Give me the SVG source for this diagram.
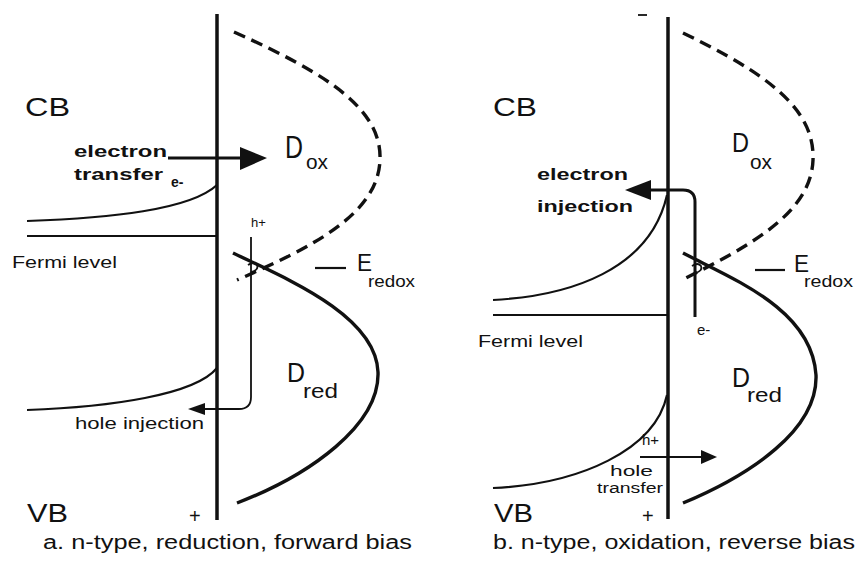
<svg xmlns="http://www.w3.org/2000/svg" width="857" height="561" viewBox="0 0 857 561">
<defs>
<style>
.t{font-family:"Liberation Sans",Arial,sans-serif;fill:#111}
.b{font-weight:bold}
.iface{stroke:#111;stroke-width:3.5;fill:none}
.band{stroke:#111;stroke-width:2.2;fill:none}
.ox{stroke:#111;stroke-width:3.4;fill:none;stroke-dasharray:12 7}
.red{stroke:#111;stroke-width:3.4;fill:none}
.thin{stroke:#111;stroke-width:1.8;fill:none}
.thick{stroke:#111;stroke-width:3;fill:none}
.ah{fill:#111}
</style>
</defs>
<rect width="857" height="561" fill="#fff"/>

<g id="panel-a">
  <g id="a-interface"><line class="iface" x1="217" y1="14" x2="217" y2="520"/></g>
  <g id="a-cb"><path class="band" d="M27,221 C110,218 190,210 217,185"/>
    <text class="t" x="25" y="116" font-size="25" textLength="45" lengthAdjust="spacingAndGlyphs">CB</text></g>
  <g id="a-fermi"><line class="band" x1="27" y1="236" x2="217" y2="236" stroke-width="2.6"/>
    <text class="t" x="12" y="268" font-size="16" textLength="105" lengthAdjust="spacingAndGlyphs">Fermi level</text></g>
  <g id="a-vb"><path class="band" d="M27,410 C110,407 195,395 217,368"/>
    <text class="t" x="27" y="522" font-size="25" textLength="41" lengthAdjust="spacingAndGlyphs">VB</text></g>
  <g id="a-dox"><path class="ox" d="M234,32 C330,75 382,110 380,160 C378,215 310,248 237,280"/>
    <text class="t" x="285" y="158" font-size="31" textLength="18" lengthAdjust="spacingAndGlyphs">D</text>
    <text class="t" x="306" y="169" font-size="20" textLength="22" lengthAdjust="spacingAndGlyphs">ox</text></g>
  <g id="a-dred"><path class="red" d="M233,253 C285,278 376,315 378,372 C380,425 310,475 237,503"/>
    <text class="t" x="287" y="382" font-size="27" textLength="18" lengthAdjust="spacingAndGlyphs">D</text>
    <text class="t" x="303" y="398" font-size="20" textLength="35" lengthAdjust="spacingAndGlyphs">red</text></g>
  <g id="a-eredox"><line class="band" x1="315" y1="268" x2="346" y2="268"/>
    <text class="t" x="357" y="271" font-size="24" textLength="15" lengthAdjust="spacingAndGlyphs">E</text>
    <text class="t" x="368" y="287" font-size="17" textLength="47" lengthAdjust="spacingAndGlyphs">redox</text></g>
  <g id="a-labels">
    <text class="t b" x="74" y="157" font-size="17" textLength="93" lengthAdjust="spacingAndGlyphs">electron</text>
    <text class="t b" x="74" y="180" font-size="17" textLength="89" lengthAdjust="spacingAndGlyphs">transfer</text>
    <text class="t b" x="171" y="187" font-size="14">e-</text>
    <text class="t" x="251" y="227" font-size="13">h+</text>
    <text class="t" x="75" y="429" font-size="16" textLength="129" lengthAdjust="spacingAndGlyphs">hole injection</text>
    <text class="t" x="189" y="523" font-size="20">+</text>
    <text class="t" x="43" y="549" font-size="20" textLength="369" lengthAdjust="spacingAndGlyphs">a.  n-type, reduction, forward bias</text>
  </g>
</g>

<g id="panel-b">
  <g id="b-interface"><line class="iface" x1="668" y1="17" x2="668" y2="519"/>
    <line class="thin" x1="638" y1="15" x2="647" y2="15" stroke-width="2"/></g>
  <g id="b-cb"><path class="band" d="M493,300 C570,296 650,270 667,195"/>
    <text class="t" x="493" y="116" font-size="25" textLength="44" lengthAdjust="spacingAndGlyphs">CB</text></g>
  <g id="b-fermi"><line class="band" x1="493" y1="315" x2="668" y2="315" stroke-width="2.6"/>
    <text class="t" x="478" y="347" font-size="16" textLength="105" lengthAdjust="spacingAndGlyphs">Fermi level</text></g>
  <g id="b-vb"><path class="band" d="M493,488 C580,484 655,450 667,395"/>
    <text class="t" x="494" y="522" font-size="25" textLength="39" lengthAdjust="spacingAndGlyphs">VB</text></g>
  <g id="b-dox"><path class="ox" d="M683,33 C770,75 815,110 813,160 C811,215 745,248 682,280"/>
    <text class="t" x="732" y="152" font-size="28" textLength="17" lengthAdjust="spacingAndGlyphs">D</text>
    <text class="t" x="750" y="169" font-size="20" textLength="22" lengthAdjust="spacingAndGlyphs">ox</text></g>
  <g id="b-dred"><path class="red" d="M683,253 C735,280 812,310 816,375 C818,430 750,475 683,503"/>
    <text class="t" x="732" y="387" font-size="27" textLength="18" lengthAdjust="spacingAndGlyphs">D</text>
    <text class="t" x="747" y="402" font-size="20" textLength="35" lengthAdjust="spacingAndGlyphs">red</text></g>
  <g id="b-eredox"><line class="band" x1="755" y1="270" x2="785" y2="270"/>
    <text class="t" x="794" y="272" font-size="24" textLength="15" lengthAdjust="spacingAndGlyphs">E</text>
    <text class="t" x="804" y="287" font-size="17" textLength="49" lengthAdjust="spacingAndGlyphs">redox</text></g>
  <g id="b-labels">
    <text class="t b" x="537" y="180" font-size="17" textLength="91" lengthAdjust="spacingAndGlyphs">electron</text>
    <text class="t b" x="537" y="212" font-size="17" textLength="96" lengthAdjust="spacingAndGlyphs">injection</text>
    <text class="t" x="697" y="335" font-size="15">e-</text>
    <text class="t" x="642" y="445" font-size="15">h+</text>
    <text class="t" x="610" y="476" font-size="14" textLength="43" lengthAdjust="spacingAndGlyphs">hole</text>
    <text class="t" x="597" y="493" font-size="14" textLength="66" lengthAdjust="spacingAndGlyphs">transfer</text>
    <text class="t" x="642" y="523" font-size="20">+</text>
    <text class="t" x="493" y="549" font-size="20" textLength="362" lengthAdjust="spacingAndGlyphs">b.  n-type, oxidation, reverse bias</text>
  </g>
</g>

<g id="connectors">
  <line class="thick" x1="168" y1="158" x2="242" y2="158"/>
  <polygon class="ah" points="267,158 240,147 240,170"/>
  <path class="thin" d="M251,237 V397 Q251,409 239,409 H204"/>
  <polygon class="ah" points="188,409 205,403 205,415"/>
  <path class="thin" d="M248,265 q6,-4 9,0 q2,5 -6,7"/>
  <path class="thick" d="M695,317 V202 Q695,190 683,190 H648"/>
  <polygon class="ah" points="625,190 651,180 651,200"/>
  <path class="thin" d="M692,266 q6,-4 9,0 q2,5 -6,7"/>
  <line class="thin" x1="640" y1="457" x2="703" y2="457" stroke-width="2.2"/>
  <polygon class="ah" points="717,457 701,450 701,464"/>
</g>
</svg>
